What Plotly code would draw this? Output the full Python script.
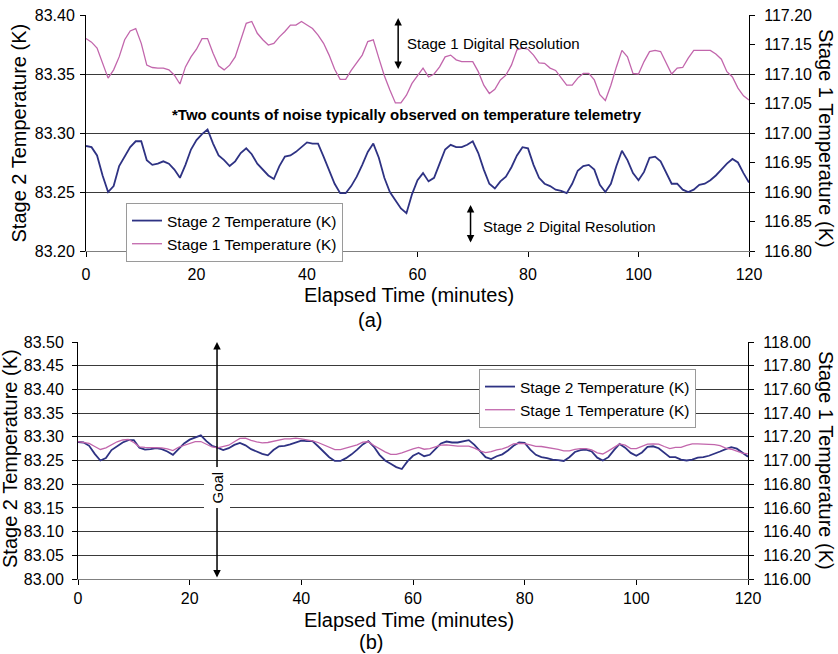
import plotly.graph_objects as go

minutes = list(range(0, 121))

stage2_temp = [
    83.289, 83.288, 83.281, 83.264, 83.250, 83.255, 83.272, 83.280, 83.288, 83.293,
    83.293, 83.277, 83.273, 83.274, 83.276, 83.274, 83.269, 83.262, 83.273, 83.286,
    83.294, 83.299, 83.303, 83.291, 83.281, 83.277, 83.272, 83.276, 83.283, 83.287,
    83.282, 83.274, 83.269, 83.264, 83.261, 83.272, 83.280, 83.281, 83.284, 83.288,
    83.292, 83.291, 83.291, 83.280, 83.269, 83.257, 83.249, 83.249, 83.255, 83.263,
    83.273, 83.284, 83.291, 83.279, 83.262, 83.250, 83.243, 83.236, 83.232, 83.248,
    83.260, 83.266, 83.259, 83.262, 83.274, 83.286, 83.290, 83.288, 83.288, 83.290,
    83.293, 83.283, 83.269, 83.257, 83.253, 83.259, 83.263, 83.271, 83.281, 83.288,
    83.287, 83.273, 83.262, 83.257, 83.255, 83.252, 83.251, 83.249, 83.257, 83.268,
    83.272, 83.273, 83.269, 83.256, 83.250, 83.257, 83.272, 83.285, 83.277, 83.266,
    83.260, 83.267, 83.279, 83.280, 83.276, 83.266, 83.257, 83.257, 83.252, 83.250,
    83.252, 83.256, 83.257, 83.260, 83.264, 83.269, 83.274, 83.278, 83.275, 83.266,
    83.258,
]

stage1_temp = [
    117.160, 117.154, 117.144, 117.118, 117.093, 117.107, 117.129, 117.158, 117.173, 117.177,
    117.152, 117.115, 117.111, 117.110, 117.110, 117.107, 117.098, 117.083, 117.112, 117.129,
    117.142, 117.160, 117.160, 117.135, 117.114, 117.107, 117.115, 117.129, 117.158, 117.186,
    117.189, 117.169, 117.158, 117.149, 117.152, 117.163, 117.172, 117.183, 117.183, 117.189,
    117.183, 117.177, 117.166, 117.152, 117.132, 117.108, 117.091, 117.091, 117.106, 117.119,
    117.132, 117.155, 117.158, 117.127, 117.097, 117.073, 117.051, 117.051, 117.064, 117.084,
    117.098, 117.110, 117.095, 117.100, 117.112, 117.129, 117.132, 117.124, 117.121, 117.121,
    117.121, 117.104, 117.081, 117.067, 117.074, 117.090, 117.098, 117.115, 117.141, 117.144,
    117.142, 117.132, 117.119, 117.118, 117.110, 117.106, 117.093, 117.081, 117.081, 117.093,
    117.101, 117.101, 117.090, 117.065, 117.055, 117.081, 117.112, 117.140, 117.129, 117.101,
    117.100, 117.121, 117.138, 117.140, 117.138, 117.118, 117.100, 117.110, 117.111, 117.127,
    117.140, 117.140, 117.140, 117.140, 117.134, 117.125, 117.104, 117.095, 117.076, 117.063,
    117.056,
]

S2_NAME = "Stage 2 Temperature (K)"
S1_NAME = "Stage 1 Temperature (K)"
NAVY = "#2E3283"
PINK = "#C266AC"
FONT = "Liberation Sans, Arial, sans-serif"
W, H = 838, 654

def px(x):
    return x / W

def py(y):
    return 1 - y / H

fig = go.Figure()

# top panel
fig.add_trace(go.Scatter(x=minutes, y=stage2_temp, name=S2_NAME, mode="lines",
                         line=dict(color=NAVY, width=1.8), xaxis="x", yaxis="y",
                         legend="legend"))
fig.add_trace(go.Scatter(x=minutes, y=stage1_temp, name=S1_NAME, mode="lines",
                         line=dict(color=PINK, width=1.3), xaxis="x", yaxis="y2",
                         legend="legend"))
# bottom panel
fig.add_trace(go.Scatter(x=minutes, y=stage2_temp, name=S2_NAME, mode="lines",
                         line=dict(color=NAVY, width=1.8), xaxis="x2", yaxis="y3",
                         legend="legend2"))
fig.add_trace(go.Scatter(x=minutes, y=stage1_temp, name=S1_NAME, mode="lines",
                         line=dict(color=PINK, width=1.3), xaxis="x2", yaxis="y4",
                         legend="legend2"))

tickfont = dict(family=FONT, size=16, color="black")
common_y = dict(tickformat=".2f", ticks="outside", tickcolor="black", ticklen=5,
                showline=True, linecolor="black", linewidth=1, tickfont=tickfont,
                zeroline=False, fixedrange=True, automargin=False)
common_x = dict(range=[0, 120], dtick=20, ticks="outside", tickcolor="black", ticklen=5,
                showline=True, linecolor="#808080", linewidth=1, showgrid=False,
                tickfont=tickfont, zeroline=False, automargin=False)

fig.update_layout(
    template="none",
    width=W, height=H, autosize=False,
    margin=dict(l=0, r=0, t=0, b=0, pad=0),
    paper_bgcolor="white", plot_bgcolor="white",
    font=dict(family=FONT, color="black"),
    showlegend=True,
    xaxis=dict(domain=[px(86), px(749)], anchor="y", ticklabelstandoff=4, **common_x),
    yaxis=dict(domain=[py(251), py(15)], anchor="x", range=[83.20, 83.40], dtick=0.05,
               showgrid=True, gridcolor="#3a3a3a", gridwidth=1, ticklabelstandoff=2, **common_y),
    yaxis2=dict(overlaying="y", side="right", anchor="x", range=[116.80, 117.20], dtick=0.05,
                showgrid=False, ticklabelstandoff=6, **common_y),
    xaxis2=dict(domain=[px(78), px(748)], anchor="y3", ticklabelstandoff=0, **common_x),
    yaxis3=dict(domain=[py(579), py(342)], anchor="x2", range=[83.00, 83.50], dtick=0.05,
                showgrid=True, gridcolor="#3a3a3a", gridwidth=1, ticklabelstandoff=5, **common_y),
    yaxis4=dict(overlaying="y3", side="right", anchor="x2", range=[116.00, 118.00], dtick=0.2,
                showgrid=False, ticklabelstandoff=6, **common_y),
    legend=dict(x=px(126), y=py(203), xanchor="left", yanchor="top",
                bgcolor="white", bordercolor="#9a9a9a", borderwidth=1,
                font=dict(family=FONT, size=15.5, color="black"), itemwidth=30,
                tracegroupgap=0),
    legend2=dict(x=px(479), y=py(369), xanchor="left", yanchor="top",
                 bgcolor="white", bordercolor="#9a9a9a", borderwidth=1,
                 font=dict(family=FONT, size=15.5, color="black"), itemwidth=30,
                 tracegroupgap=0),
)

ann = []
title_font = dict(family=FONT, size=20, color="black")
# axis titles
ann.append(dict(text="Elapsed Time (minutes)", x=px(409), y=py(295), xref="paper", yref="paper",
                showarrow=False, font=title_font, xanchor="center", yanchor="middle"))
ann.append(dict(text="Elapsed Time (minutes)", x=px(409), y=py(620), xref="paper", yref="paper",
                showarrow=False, font=title_font, xanchor="center", yanchor="middle"))
ann.append(dict(text="(a)", x=px(370), y=py(320), xref="paper", yref="paper",
                showarrow=False, font=title_font, xanchor="center", yanchor="middle"))
ann.append(dict(text="(b)", x=px(371), y=py(642), xref="paper", yref="paper",
                showarrow=False, font=title_font, xanchor="center", yanchor="middle"))
ann.append(dict(text=S2_NAME, x=px(18.5), y=py(133), xref="paper", yref="paper", textangle=-90,
                showarrow=False, font=title_font, xanchor="center", yanchor="middle"))
ann.append(dict(text=S2_NAME, x=px(10), y=py(459), xref="paper", yref="paper", textangle=-90,
                showarrow=False, font=title_font, xanchor="center", yanchor="middle"))
ann.append(dict(text=S1_NAME, x=px(826), y=py(138), xref="paper", yref="paper", textangle=90,
                showarrow=False, font=title_font, xanchor="center", yanchor="middle"))
ann.append(dict(text=S1_NAME, x=px(826), y=py(460), xref="paper", yref="paper", textangle=90,
                showarrow=False, font=title_font, xanchor="center", yanchor="middle"))

# notes in top panel
ann.append(dict(text="<b>*Two counts of noise typically observed on temperature telemetry</b>",
                x=px(407), y=py(114), xref="paper", yref="paper", showarrow=False,
                font=dict(family=FONT, size=15, color="black"), xanchor="center", yanchor="middle"))
ann.append(dict(text="Stage 1 Digital Resolution", x=px(405), y=py(44), xref="paper", yref="paper",
                showarrow=False, font=dict(family=FONT, size=15, color="black"),
                xanchor="left", yanchor="middle"))
ann.append(dict(text="Stage 2 Digital Resolution", x=px(481), y=py(226), xref="paper", yref="paper",
                showarrow=False, font=dict(family=FONT, size=15, color="black"),
                xanchor="left", yanchor="middle"))
arrow_style = dict(text="", showarrow=True, arrowhead=2, startarrowhead=2, arrowside="end+start",
                   arrowsize=1, startarrowsize=1, arrowwidth=1.5, arrowcolor="black",
                   standoff=0, startstandoff=0)
ann.append(dict(x=56.5, y=83.3975, ax=56.5, ay=83.353, xref="x", yref="y", axref="x", ayref="y",
                **arrow_style))
ann.append(dict(x=69.6, y=83.239, ax=69.6, ay=83.206, xref="x", yref="y", axref="x", ayref="y",
                **arrow_style))
# goal arrow in bottom panel
ann.append(dict(x=24.9, y=83.50, ax=24.9, ay=83.00, xref="x2", yref="y3", axref="x2", ayref="y3",
                **arrow_style))
ann.append(dict(text="Goal", x=24.9, y=83.193, xref="x2", yref="y3", showarrow=False, textangle=-90,
                bgcolor="white", borderpad=4, font=dict(family=FONT, size=15, color="black"),
                xanchor="center", yanchor="middle"))

fig.update_layout(annotations=ann)

# remove the default page margin so the figure sits at the window's top-left corner
fig.write_html("out.html", config={"displayModeBar": False},
               post_script="document.body.style.margin='0';")
